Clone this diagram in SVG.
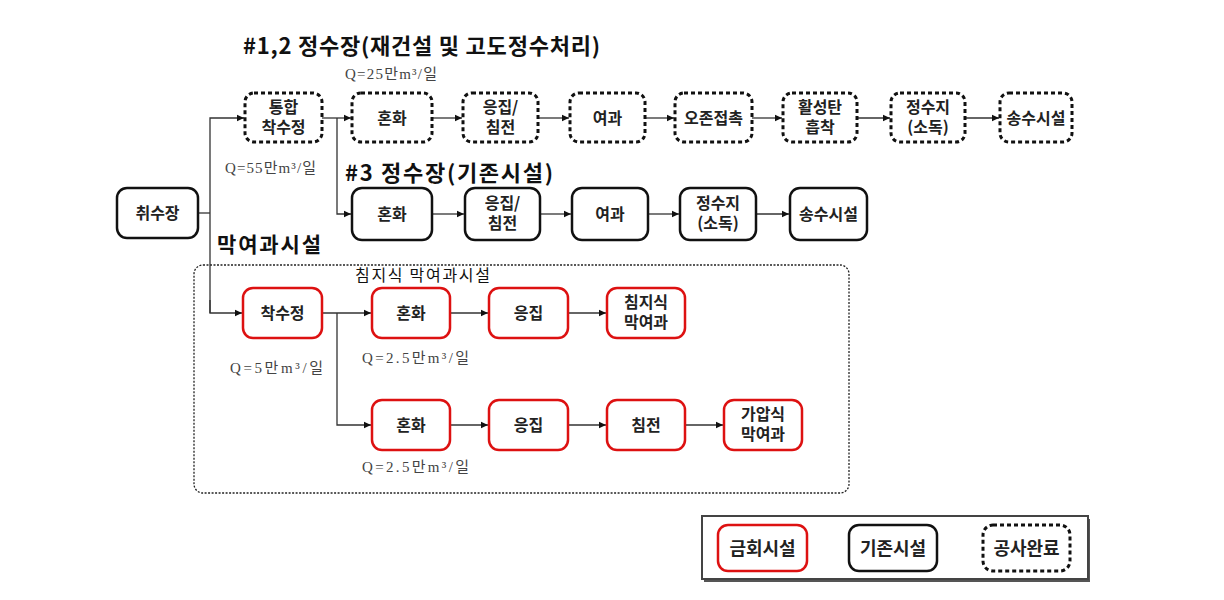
<svg xmlns="http://www.w3.org/2000/svg" width="1224" height="600" viewBox="0 0 1224 600">
<defs>
<marker id="ah" markerWidth="8" markerHeight="8" refX="7" refY="4" orient="auto" markerUnits="userSpaceOnUse">
<path d="M0,0.8 L7,4 L0,7.2 Z" fill="#111"/>
</marker>
<style>
.t{font-family:"Noto Sans CJK KR","Noto Sans",sans-serif;font-weight:bold;fill:#222;text-anchor:middle;}
.n{font-size:16px;}
.h{font-family:"Noto Sans CJK KR","Noto Sans",sans-serif;font-weight:bold;fill:#111;font-size:22px;}
.q{font-family:"Liberation Serif","Noto Sans CJK KR",serif;fill:#444;font-size:15px;}
.dash{fill:#fff;stroke:#111;stroke-width:3;stroke-dasharray:4 3;}
.sol{fill:#fff;stroke:#111;stroke-width:2.5;}
.red{fill:#fff;stroke:#d11;stroke-width:2.5;}
.c{fill:none;stroke:#333;stroke-width:1.3;}
.ca{fill:none;stroke:#333;stroke-width:1.3;marker-end:url(#ah);}
</style>
</defs>
<rect width="1224" height="600" fill="#fff"/>

<!-- region -->
<rect x="194" y="265" width="655" height="228" rx="9" fill="none" stroke="#222" stroke-width="1.3" stroke-dasharray="2 1.5"/>

<!-- headings -->
<text class="h" x="243" y="54" textLength="357" lengthAdjust="spacing">#1,2 정수장(재건설 및 고도정수처리)</text>
<text class="h" x="345" y="181" textLength="208" lengthAdjust="spacing">#3 정수장(기존시설)</text>
<text class="h" x="217" y="252" style="font-size:21px" textLength="104" lengthAdjust="spacing">막여과시설</text>
<text x="355" y="281" textLength="135" lengthAdjust="spacing" style="font-family:'Noto Sans CJK KR',sans-serif;font-size:16px;fill:#111">침지식 막여과시설</text>

<!-- Q labels -->
<text class="q" x="345" y="79" textLength="92" lengthAdjust="spacing">Q=25만m³/일</text>
<text class="q" x="225" y="173" textLength="91" lengthAdjust="spacing">Q=55만m³/일</text>
<text class="q" x="230" y="373" textLength="93" lengthAdjust="spacing">Q=5만m³/일</text>
<text class="q" x="362" y="363" textLength="107" lengthAdjust="spacing">Q=2.5만m³/일</text>
<text class="q" x="362" y="472" textLength="107" lengthAdjust="spacing">Q=2.5만m³/일</text>

<!-- connectors -->
<g id="connectors">
<path class="c" d="M198,213 H210"/>
<path class="ca" d="M210,313 V118 H244"/>
<path class="ca" d="M210,300 V313 H242"/>
<path class="ca" d="M322,118 H351"/>
<path class="ca" d="M337,118 V214 H351"/>
<path class="ca" d="M432,118 H462"/>
<path class="ca" d="M538,118 H569"/>
<path class="ca" d="M645,118 H674"/>
<path class="ca" d="M752,118 H782"/>
<path class="ca" d="M857,118 H890"/>
<path class="ca" d="M965,118 H999"/>
<path class="ca" d="M432,214 H464"/>
<path class="ca" d="M540,214 H571"/>
<path class="ca" d="M648,214 H679"/>
<path class="ca" d="M756,214 H789"/>
<path class="ca" d="M322,313 H371"/>
<path class="ca" d="M337,313 V425 H371"/>
<path class="ca" d="M450,313 H488"/>
<path class="ca" d="M568,313 H606"/>
<path class="ca" d="M450,425 H488"/>
<path class="ca" d="M568,425 H606"/>
<path class="ca" d="M685,425 H723"/>
</g>

<!-- row 1 dashed -->
<g id="n_tonghap"><rect class="dash" x="245" y="93" width="77" height="49" rx="9"/><text class="t n"><tspan x="283.5" y="113">통합</tspan><tspan x="283.5" y="133">착수정</tspan></text></g>
<g id="n_honhwa1"><rect class="dash" x="352" y="93" width="80" height="49" rx="9"/><text class="t n" x="392" y="124">혼화</text></g>
<g id="n_eungjip1"><rect class="dash" x="463" y="93" width="75" height="49" rx="9"/><text class="t n"><tspan x="500.5" y="113">응집/</tspan><tspan x="500.5" y="133">침전</tspan></text></g>
<g id="n_yeogwa1"><rect class="dash" x="570" y="93" width="75" height="49" rx="9"/><text class="t n" x="607.5" y="124">여과</text></g>
<g id="n_ozone"><rect class="dash" x="675" y="93" width="77" height="49" rx="9"/><text class="t n" x="713.5" y="124">오존접촉</text></g>
<g id="n_hwalseong"><rect class="dash" x="783" y="93" width="74" height="49" rx="9"/><text class="t n"><tspan x="820" y="113">활성탄</tspan><tspan x="820" y="133">흡착</tspan></text></g>
<g id="n_jeongsuji1"><rect class="dash" x="891" y="93" width="74" height="49" rx="9"/><text class="t n"><tspan x="928" y="113">정수지</tspan><tspan x="928" y="133">(소독)</tspan></text></g>
<g id="n_songsu1"><rect class="dash" x="1000" y="93" width="72" height="49" rx="9"/><text class="t n" x="1036" y="124">송수시설</text></g>

<!-- 취수장 -->
<g id="n_chwisu"><rect class="sol" x="117" y="188" width="81" height="50" rx="10"/><text class="t n" x="157.5" y="219">취수장</text></g>

<!-- row 2 solid -->
<g id="n_honhwa2"><rect class="sol" x="352" y="188" width="80" height="52" rx="10"/><text class="t n" x="392" y="220">혼화</text></g>
<g id="n_eungjip2"><rect class="sol" x="465" y="188" width="75" height="52" rx="10"/><text class="t n"><tspan x="502.5" y="209">응집/</tspan><tspan x="502.5" y="229">침전</tspan></text></g>
<g id="n_yeogwa2"><rect class="sol" x="572" y="188" width="76" height="52" rx="10"/><text class="t n" x="610" y="220">여과</text></g>
<g id="n_jeongsuji2"><rect class="sol" x="680" y="188" width="76" height="52" rx="10"/><text class="t n"><tspan x="718" y="209">정수지</tspan><tspan x="718" y="229">(소독)</tspan></text></g>
<g id="n_songsu2"><rect class="sol" x="790" y="188" width="77" height="52" rx="10"/><text class="t n" x="828.5" y="220">송수시설</text></g>

<!-- row 3 red -->
<g id="n_chaksu"><rect class="red" x="243" y="288" width="79" height="50" rx="10"/><text class="t n" x="282.5" y="319">착수정</text></g>
<g id="n_honhwa3"><rect class="red" x="372" y="288" width="78" height="50" rx="10"/><text class="t n" x="411" y="319">혼화</text></g>
<g id="n_eungjip3"><rect class="red" x="489" y="288" width="79" height="50" rx="10"/><text class="t n" x="528.5" y="319">응집</text></g>
<g id="n_chimji"><rect class="red" x="607" y="288" width="78" height="50" rx="10"/><text class="t n"><tspan x="646" y="308">침지식</tspan><tspan x="646" y="328">막여과</tspan></text></g>

<!-- row 4 red -->
<g id="n_honhwa4"><rect class="red" x="372" y="400" width="78" height="50" rx="10"/><text class="t n" x="411" y="431">혼화</text></g>
<g id="n_eungjip4"><rect class="red" x="489" y="400" width="79" height="50" rx="10"/><text class="t n" x="528.5" y="431">응집</text></g>
<g id="n_chimjeon"><rect class="red" x="607" y="400" width="78" height="50" rx="10"/><text class="t n" x="646" y="431">침전</text></g>
<g id="n_gaap"><rect class="red" x="724" y="400" width="78" height="50" rx="10"/><text class="t n"><tspan x="763" y="420">가압식</tspan><tspan x="763" y="440">막여과</tspan></text></g>

<!-- legend -->
<g id="legend">
<rect x="704" y="519" width="386" height="63" fill="#555"/>
<rect x="702" y="516" width="386" height="63" fill="#fff" stroke="#444" stroke-width="2"/>
<g id="lg_red"><rect class="red" x="718" y="525" width="89" height="46" rx="10"/><text class="t" x="762.5" y="555" style="font-size:18px">금회시설</text></g>
<g id="lg_sol"><rect class="sol" x="849" y="525" width="88" height="46" rx="10"/><text class="t" x="893" y="555" style="font-size:18px">기존시설</text></g>
<g id="lg_dash"><rect class="dash" x="983" y="525" width="87" height="46" rx="10"/><text class="t" x="1026.5" y="555" style="font-size:18px">공사완료</text></g>
</g>
</svg>
